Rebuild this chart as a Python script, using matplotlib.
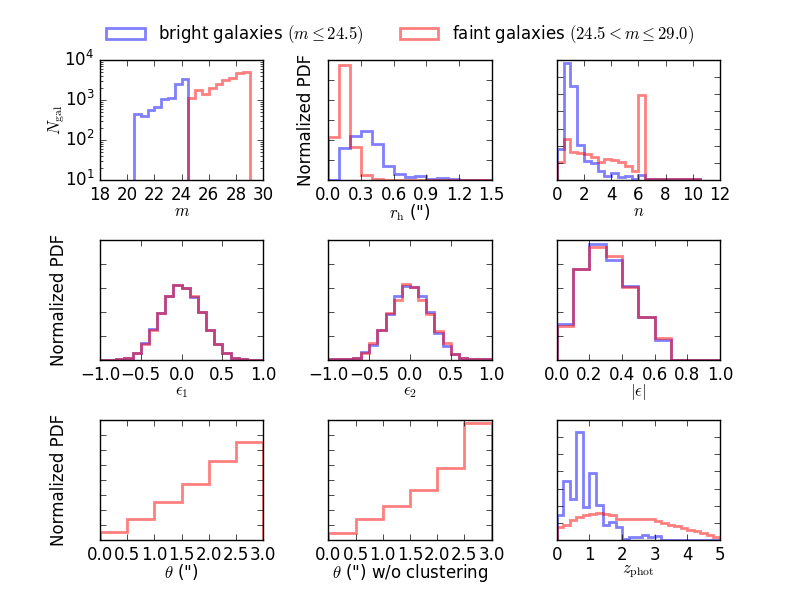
import numpy as np
import matplotlib
matplotlib.use("Agg")
import matplotlib.pyplot as plt
from matplotlib.patches import Patch
from matplotlib.ticker import MultipleLocator, NullFormatter

plt.style.use('classic')
plt.rcParams['figure.facecolor'] = 'white'
plt.rcParams['savefig.facecolor'] = 'white'

# ---------------- data ----------------
# magnitude histogram (counts)
m_edges_bright = np.arange(20.5, 24.51, 0.5)
m_bright = [440, 400, 575, 680, 1070, 1100, 2500, 3300]
m_edges_faint = np.arange(24.5, 29.01, 0.5)
m_faint = [1130, 1780, 1450, 1940, 2500, 3150, 3450, 4600, 4900]

# half-light radius (density)
rh_edges = np.arange(0.0, 1.51, 0.1)
rh_bright = [0.0, 1.62, 2.21, 2.47, 1.82, 0.68, 0.31, 0.15, 0.20, 0.03, 0.08, 0.05, 0.02, 0.01, 0.01]
rh_faint = [2.13, 5.77, 1.65, 0.26, 0.05, 0.02, 0.02, 0.01, 0.01, 0.01, 0.01, 0.01, 0.01, 0.01, 0.01]

# Sersic index (density)
n_edges = np.arange(0.0, 10.51, 0.5)
n_bright = [0.183, 0.684, 0.546, 0.202, 0.110, 0.098, 0.055, 0.026, 0.039, 0.016,
            0.026, 0.006, 0.031, 0.003, 0.003, 0.003, 0.003, 0.003, 0.003, 0.003, 0.003]
n_faint = [0.104, 0.242, 0.163, 0.157, 0.149, 0.134, 0.104, 0.124, 0.114, 0.104,
           0.079, 0.055, 0.497, 0.003, 0.003, 0.003, 0.003, 0.003, 0.003, 0.003, 0.003]

# ellipticity components (density)
e_edges = np.arange(-1.0, 1.01, 0.1)
e1_bright = [0.01, 0.01, 0.02, 0.05, 0.15, 0.35, 0.64, 0.97, 1.33, 1.57,
             1.51, 1.32, 0.99, 0.62, 0.33, 0.14, 0.05, 0.015, 0.01, 0.01]
e1_faint = [0.01, 0.01, 0.02, 0.05, 0.15, 0.33, 0.63, 0.97, 1.33, 1.56,
            1.51, 1.33, 1.00, 0.63, 0.33, 0.14, 0.05, 0.015, 0.01, 0.01]
e2_bright = [0.014, 0.014, 0.014, 0.035, 0.16, 0.31, 0.62, 0.95, 1.34, 1.54,
             1.52, 1.33, 1.00, 0.57, 0.29, 0.13, 0.05, 0.014, 0.014, 0.014]
e2_faint = [0.014, 0.014, 0.014, 0.035, 0.14, 0.35, 0.62, 0.98, 1.26, 1.59,
            1.52, 1.26, 0.95, 0.61, 0.36, 0.13, 0.05, 0.014, 0.014, 0.014]

# |e| (density)
ae_edges = np.arange(0.0, 1.01, 0.1)
ae_bright = [0.74, 1.89, 2.42, 2.08, 1.54, 0.89, 0.42, 0.01, 0.01, 0.01]
ae_faint = [0.70, 1.89, 2.35, 2.17, 1.52, 0.89, 0.46, 0.01, 0.01, 0.01]

# separation (density, faint only)
th_edges = np.arange(0.0, 3.01, 0.5)
th_faint = [0.055, 0.143, 0.254, 0.371, 0.525, 0.651]
th_nc_faint = [0.044, 0.137, 0.227, 0.336, 0.481, 0.777]

# photometric redshift (density)
z_edges = np.arange(0.0, 5.01, 0.2)
z_bright = [0.29, 0.69, 0.48, 1.26, 0.39, 0.78, 0.41, 0.18, 0.21, 0.15,
            0.01, 0.03, 0.03, 0.06, 0.03, 0.05, 0.005, 0.005, 0.005, 0.005,
            0.005, 0.005, 0.005, 0.005, 0.005]
z_faint = [0.15, 0.18, 0.23, 0.27, 0.29, 0.30, 0.31, 0.30, 0.29, 0.25,
           0.24, 0.24, 0.25, 0.25, 0.24, 0.22, 0.20, 0.18, 0.16, 0.14,
           0.12, 0.10, 0.08, 0.06, 0.04]

BLUE = 'blue'
RED = 'red'
kw = dict(alpha=0.5, lw=2)

fig, axes = plt.subplots(3, 3, figsize=(8, 6))
fig.subplots_adjust(left=0.125, right=0.9, top=0.9, bottom=0.1, wspace=0.4, hspace=0.5)

# panel 1
ax = axes[0, 0]
ax.stairs(m_bright, m_edges_bright, baseline=1, color=BLUE, **kw)
ax.stairs(m_faint, m_edges_faint, baseline=1, color=RED, **kw)
ax.set_yscale('log')
ax.set_xlim(18, 30)
ax.set_ylim(10, 1e4)
ax.set_xticks(np.arange(18, 31, 2))
ax.set_xlabel(r'$m$', labelpad=-1)
ax.set_ylabel(r'$N_{\rm gal}$')
ax.yaxis.set_label_coords(-0.20, 0.5)


def pdf_panel(ax, edges, series, xlim, xstep, ylim, ystep, xlabel, ylabel=None, lcoord=None):
    for vals, col in series:
        ax.stairs(vals, edges, baseline=0, color=col, **kw)
    ax.set_xlim(*xlim)
    ax.set_ylim(*ylim)
    ax.xaxis.set_major_locator(MultipleLocator(xstep))
    ax.yaxis.set_major_locator(MultipleLocator(ystep))
    ax.yaxis.set_major_formatter(NullFormatter())
    ax.set_xlabel(xlabel, labelpad=-1)
    if ylabel:
        ax.set_ylabel(ylabel)
        ax.yaxis.set_label_coords(lcoord, 0.5)


pdf_panel(axes[0, 1], rh_edges, [(rh_bright, BLUE), (rh_faint, RED)], (0, 1.5), 0.3, (0, 6), 1,
          r'$r_{\rm h}$ (")', 'Normalized PDF', -0.08)
pdf_panel(axes[0, 2], n_edges, [(n_bright, BLUE), (n_faint, RED)], (0, 12), 2, (0, 0.7), 0.1,
          r'$n$')
pdf_panel(axes[1, 0], e_edges, [(e1_bright, BLUE), (e1_faint, RED)], (-1, 1), 0.5, (0, 2.5), 0.5,
          r'$\epsilon_1$', 'Normalized PDF', -0.195)
pdf_panel(axes[1, 1], e_edges, [(e2_bright, BLUE), (e2_faint, RED)], (-1, 1), 0.5, (0, 2.5), 0.5,
          r'$\epsilon_2$')
pdf_panel(axes[1, 2], ae_edges, [(ae_bright, BLUE), (ae_faint, RED)], (0, 1), 0.2, (0, 2.5), 0.5,
          r'$|\epsilon|$')
pdf_panel(axes[2, 0], th_edges, [(th_faint, RED)], (0, 3), 0.5, (0, 0.8), 0.1,
          r'$\theta$ (")', 'Normalized PDF', -0.195)
pdf_panel(axes[2, 1], th_edges, [(th_nc_faint, RED)], (0, 3), 0.5, (0, 0.8), 0.1,
          r'$\theta$ (") w/o clustering')
pdf_panel(axes[2, 2], z_edges, [(z_bright, BLUE), (z_faint, RED)], (0, 5), 1, (0, 1.4), 0.2,
          r'$z_{\rm phot}$')

handles = [Patch(facecolor='none', edgecolor=BLUE, alpha=0.5, lw=2),
           Patch(facecolor='none', edgecolor=RED, alpha=0.5, lw=2)]
labels = [r'bright galaxies $(m\leq24.5)$', r'faint galaxies $(24.5<m\leq29.0)$']
fig.legend(handles, labels, loc='center', bbox_to_anchor=(0.5, 0.942), ncol=2,
           frameon=False, fontsize=12, handlelength=2.3, columnspacing=2.2)

fig.savefig('out.png', dpi=100)
